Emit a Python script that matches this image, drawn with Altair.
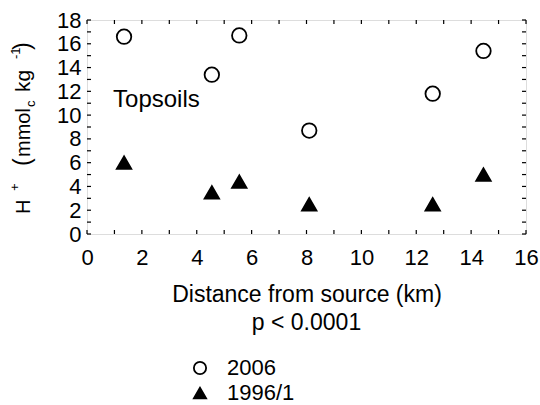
import altair as alt
import pandas as pd

# data
dist = [1.35, 4.55, 5.55, 8.1, 12.6, 14.45]
h2006 = [16.6, 13.4, 16.7, 8.7, 11.8, 15.4]
h1996 = [6.0, 3.5, 4.4, 2.5, 2.5, 5.0]
years = ["2006", "1996/1"]
x_ticks = list(range(0, 17, 2))
x_minor = list(range(0, 17, 1))
y_ticks = list(range(0, 19, 2))
y_minor = list(range(0, 19, 1))

FONT = "Liberation Sans"
W, H = 439, 214

df = pd.DataFrame({
    "x": dist * 2,
    "y": h2006 + h1996,
    "year": [years[0]] * len(dist) + [years[1]] * len(dist),
})

xs = alt.Scale(domain=[0, 16], nice=False, zero=False)
ys = alt.Scale(domain=[0, 18], nice=False, zero=False)

ax_x = alt.Axis(values=x_ticks, title="Distance from source (km)", ticks=False, domain=False,
                grid=False, labelFont=FONT, labelFontSize=22, labelColor="black",
                labelPadding=13, labelOverlap=False, labelFlush=False, titleFont=FONT,
                titleFontSize=23, titleFontWeight="normal", titleColor="black", titlePadding=15)
ax_y = alt.Axis(values=y_ticks, title=None, ticks=False, domain=False, grid=False,
                labelOverlap=False, labelFlush=False, labelFont=FONT, labelFontSize=22,
                labelColor="black", labelPadding=6)

leg = alt.Legend(title=None, orient="none", legendX=102, legendY=337, padding=0,
                 labelFont=FONT, labelFontSize=22, labelColor="black",
                 symbolSize=150, symbolStrokeWidth=1.8,
                 rowPadding=3, labelOffset=16)

points = alt.Chart(df).mark_point(filled=False, strokeWidth=1.8, opacity=1, size=210).encode(
    x=alt.X("x:Q", scale=xs, axis=ax_x),
    y=alt.Y("y:Q", scale=ys, axis=ax_y),
    shape=alt.Shape("year:N", scale=alt.Scale(domain=years, range=["circle", "triangle-up"]),
                    legend=leg),
    fill=alt.Fill("year:N", scale=alt.Scale(domain=years, range=["white", "black"]), legend=leg),
    stroke=alt.Stroke("year:N", scale=alt.Scale(domain=years, range=["black", "black"]), legend=leg),
)

tick_df_x = pd.DataFrame({"x": x_minor})
tick_df_y = pd.DataFrame({"y": y_minor})

tb = alt.Chart(tick_df_x).mark_rule(color="black", strokeWidth=1.2).encode(
    x=alt.X("x:Q", scale=xs, axis=ax_x), y=alt.value(H), y2=alt.value(H - 4))
tt = alt.Chart(tick_df_x).mark_rule(color="black", strokeWidth=1.2).encode(
    x=alt.X("x:Q", scale=xs, axis=ax_x), y=alt.value(0), y2=alt.value(4))
tl = alt.Chart(tick_df_y).mark_rule(color="black", strokeWidth=1.2).encode(
    y=alt.Y("y:Q", scale=ys, axis=ax_y), x=alt.value(0), x2=alt.value(4))
tr = alt.Chart(tick_df_y).mark_rule(color="black", strokeWidth=1.2).encode(
    y=alt.Y("y:Q", scale=ys, axis=ax_y), x=alt.value(W), x2=alt.value(W - 4))

label = alt.Chart(pd.DataFrame({"x": [0.95], "y": [11.3], "t": ["Topsoils"]})).mark_text(
    font=FONT, fontSize=24, align="left", baseline="middle", color="black").encode(
    x=alt.X("x:Q", scale=xs, axis=ax_x), y=alt.Y("y:Q", scale=ys, axis=ax_y), text="t:N")

p_text = alt.Chart(pd.DataFrame({"t": ["p < 0.0001"]})).mark_text(
    font=FONT, fontSize=23, align="center", baseline="middle", color="black").encode(
    x=alt.value(W / 2), y=alt.value(303), text="t:N")

# y-axis title composed of pieces (super/subscripts); positions relative to plot origin
ytitle_parts = ["H", "+", "(", "mmol", "c", "kg", "-1", ")"]
ytitle_y = [194, 171, 146, 137, 87, 72, 39, 30]
ytitle_x = [-57, -68, -57, -57, -52, -57, -67, -57]
ytitle_size = [20, 13, 23, 20, 13, 21, 13, 23]
yt = alt.Chart(pd.DataFrame({"t": ytitle_parts, "py": ytitle_y, "px": ytitle_x, "fs": ytitle_size})).mark_text(
    font=FONT, angle=270, align="left", baseline="alphabetic", color="black").encode(
    x=alt.X("px:Q", scale=None), y=alt.Y("py:Q", scale=None), text="t:N",
    size=alt.Size("fs:Q", scale=None, legend=None))

chart = alt.layer(points, tb, tt, tl, tr, label, p_text, yt).properties(
    width=W, height=H,
    padding={"left": 87, "top": 20, "right": 14, "bottom": 171},
    autosize=alt.AutoSizeParams(type="none"),
).configure_view(stroke="black", strokeWidth=1.5).configure(
    font=FONT
)

chart.save("out.html", embed_options={"renderer": "svg", "actions": False})
